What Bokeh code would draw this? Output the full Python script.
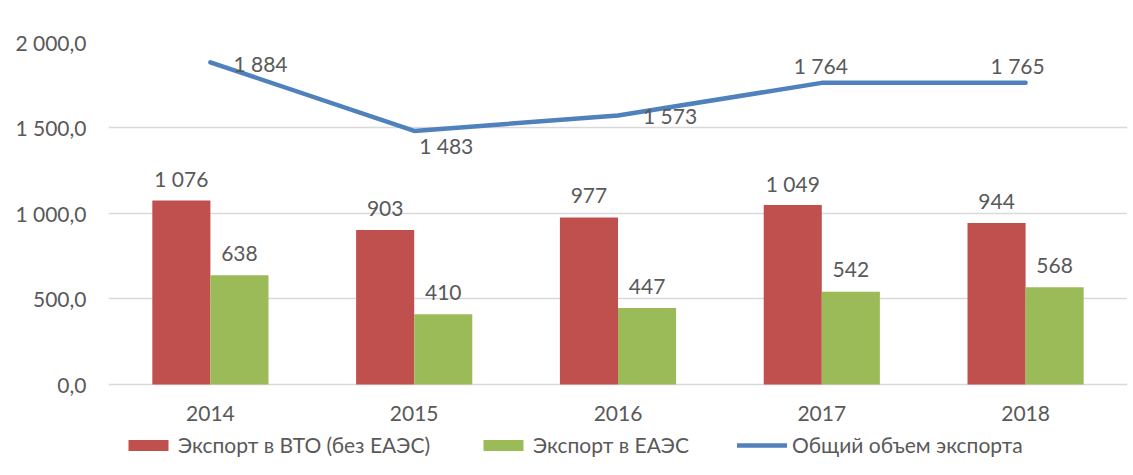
from bokeh.plotting import figure
from bokeh.models import ColumnDataSource, Range1d, FactorRange, Legend, LegendItem, CustomJSTickFormatter
from bokeh.transform import dodge
from bokeh.core.properties import value
from bokeh.embed import file_html
from bokeh.resources import INLINE

years = ["2014", "2015", "2016", "2017", "2018"]
wto = [1076, 903, 977, 1049, 944]
eaeu = [638, 410, 447, 542, 568]
total = [1884, 1483, 1573, 1764, 1765]
y_ticks = [0, 500, 1000, 1500, 2000]

RED = "#C0504D"
GREEN = "#9BBB59"
BLUE = "#4F81BD"
TXT = "#595959"
FONT = "Lato"
FS = "21px"


def fmt(v):
    return f"{v:,}".replace(",", " ")


src = ColumnDataSource(dict(
    year=years, wto=wto, eaeu=eaeu, total=total,
    wto_lbl=[fmt(v) for v in wto],
    eaeu_lbl=[fmt(v) for v in eaeu],
    total_lbl=[fmt(v) for v in total],
    dx=[23, 5, 25, -28, -35],
    dy=[1, 15, 0, -17, -17],
))

# the frame reaches below zero so that the legend sits inside it
p = figure(frame_width=1019, frame_height=424, x_range=FactorRange(*years), y_range=Range1d(-480, 2000),
           output_backend="svg", toolbar_location=None,
           min_border_left=108, min_border_right=3, min_border_top=42, min_border_bottom=0)
p.outline_line_color = None
p.xgrid.grid_line_color = None
p.ygrid.grid_line_color = "#D9D9D9"
p.ygrid.grid_line_width = 1.3
p.yaxis.ticker = y_ticks
p.yaxis.formatter = CustomJSTickFormatter(code="""
    const s = Math.round(tick).toString().replace(/\\B(?=(\\d{3})+(?!\\d))/g, ' ');
    return s + ',0';
""")
for ax in (p.xaxis, p.yaxis):
    ax.axis_line_color = None
    ax.major_tick_line_color = None
    ax.minor_tick_line_color = None
    ax.major_tick_out = 0
    ax.major_tick_in = 0
    ax.minor_tick_out = 0
    ax.major_label_text_font = FONT
    ax.major_label_text_font_size = FS
    ax.major_label_text_color = TXT
p.yaxis.major_label_standoff = 22
p.xaxis.major_label_standoff = 22
p.xaxis.fixed_location = 0

bw = 0.285
r1 = p.vbar(x=dodge("year", -bw / 2, range=p.x_range), top="wto", width=bw, source=src,
            fill_color=RED, line_color=None)
r2 = p.vbar(x=dodge("year", bw / 2, range=p.x_range), top="eaeu", width=bw, source=src,
            fill_color=GREEN, line_color=None)
r3 = p.line(x="year", y="total", source=src, line_color=BLUE, line_width=4.5, line_cap="round",
            line_join="round")

p.text(x=dodge("year", -bw / 2, range=p.x_range), y="wto", text="wto_lbl", source=src,
       text_align="center", text_baseline="middle", y_offset=-22,
       text_font=value(FONT), text_font_size=FS, text_color=TXT)
p.text(x=dodge("year", bw / 2, range=p.x_range), y="eaeu", text="eaeu_lbl", source=src,
       text_align="center", text_baseline="middle", y_offset=-22,
       text_font=value(FONT), text_font_size=FS, text_color=TXT)
p.text(x="year", y="total", text="total_lbl", source=src, x_offset="dx", y_offset="dy",
       text_align="left", text_baseline="middle",
       text_font=value(FONT), text_font_size=FS, text_color=TXT)

legend = Legend(items=[
    LegendItem(label="Экспорт в ВТО (без ЕАЭС)", renderers=[r1]),
    LegendItem(label="Экспорт в ЕАЭС", renderers=[r2]),
    LegendItem(label="Общий объем экспорта", renderers=[r3]),
], orientation="horizontal", location=(15, 9), glyph_width=50, glyph_height=14,
    label_standoff=5, spacing=48, padding=0, margin=0,
    label_text_font=FONT, label_text_font_size=FS, label_text_color=TXT,
    border_line_color=None, background_fill_alpha=0)
p.add_layout(legend, "center")

open("out.html", "w").write(file_html(p, INLINE))
